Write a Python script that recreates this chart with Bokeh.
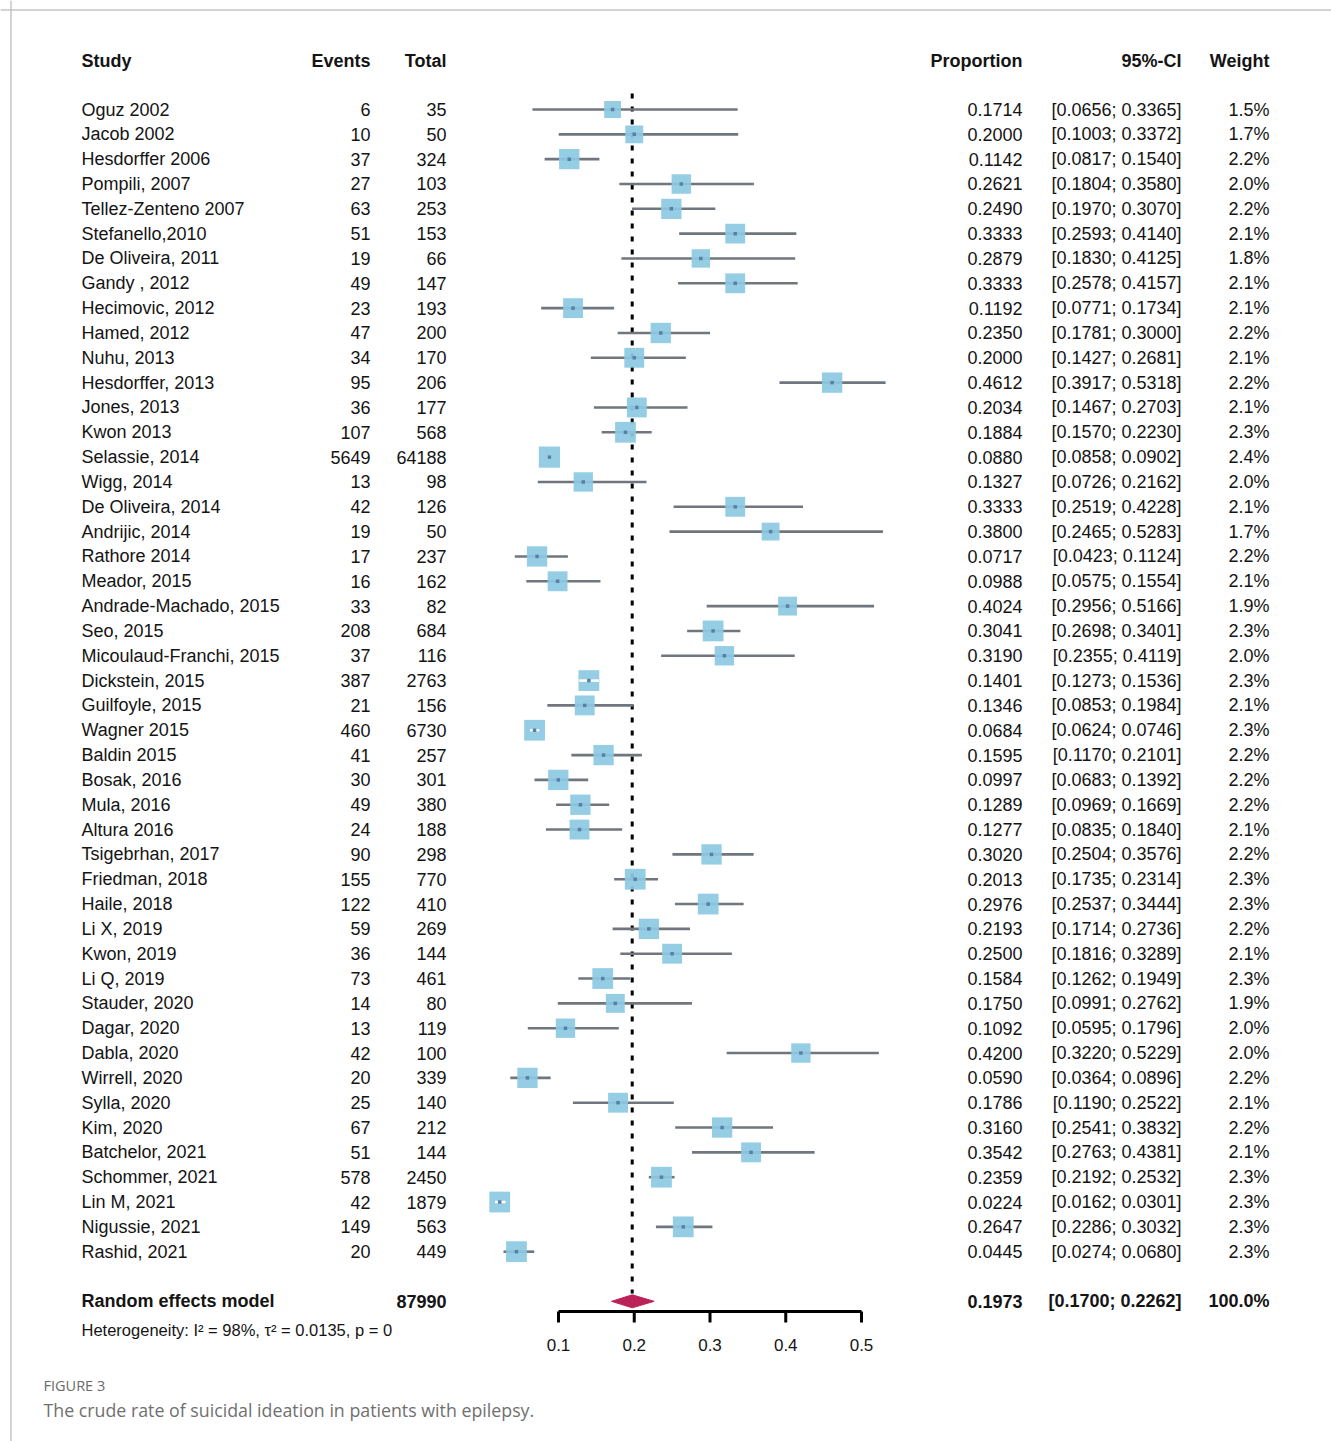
import numpy as np
from bokeh.plotting import figure
from bokeh.models import Range1d, Span, ColumnDataSource
from bokeh.core.properties import value
from bokeh.embed import file_html
from bokeh.resources import INLINE

# ---------------- data ----------------
studies = ["Oguz 2002", "Jacob 2002", "Hesdorffer 2006", "Pompili, 2007", "Tellez-Zenteno 2007",
           "Stefanello,2010", "De Oliveira, 2011", "Gandy , 2012", "Hecimovic, 2012", "Hamed, 2012",
           "Nuhu, 2013", "Hesdorffer, 2013", "Jones, 2013", "Kwon 2013", "Selassie, 2014",
           "Wigg, 2014", "De Oliveira, 2014", "Andrijic, 2014", "Rathore 2014", "Meador, 2015",
           "Andrade-Machado, 2015", "Seo, 2015", "Micoulaud-Franchi, 2015", "Dickstein, 2015",
           "Guilfoyle, 2015", "Wagner 2015", "Baldin 2015", "Bosak, 2016", "Mula, 2016",
           "Altura 2016", "Tsigebrhan, 2017", "Friedman, 2018", "Haile, 2018", "Li X, 2019",
           "Kwon, 2019", "Li Q, 2019", "Stauder, 2020", "Dagar, 2020", "Dabla, 2020",
           "Wirrell, 2020", "Sylla, 2020", "Kim, 2020", "Batchelor, 2021", "Schommer, 2021",
           "Lin M, 2021", "Nigussie, 2021", "Rashid, 2021"]
events = [6, 10, 37, 27, 63, 51, 19, 49, 23, 47, 34, 95, 36, 107, 5649, 13, 42, 19, 17, 16,
          33, 208, 37, 387, 21, 460, 41, 30, 49, 24, 90, 155, 122, 59, 36, 73, 14, 13, 42,
          20, 25, 67, 51, 578, 42, 149, 20]
totals = [35, 50, 324, 103, 253, 153, 66, 147, 193, 200, 170, 206, 177, 568, 64188, 98, 126,
          50, 237, 162, 82, 684, 116, 2763, 156, 6730, 257, 301, 380, 188, 298, 770, 410, 269,
          144, 461, 80, 119, 100, 339, 140, 212, 144, 2450, 1879, 563, 449]
proportion = [0.1714, 0.2000, 0.1142, 0.2621, 0.2490, 0.3333, 0.2879, 0.3333, 0.1192, 0.2350,
              0.2000, 0.4612, 0.2034, 0.1884, 0.0880, 0.1327, 0.3333, 0.3800, 0.0717, 0.0988,
              0.4024, 0.3041, 0.3190, 0.1401, 0.1346, 0.0684, 0.1595, 0.0997, 0.1289, 0.1277,
              0.3020, 0.2013, 0.2976, 0.2193, 0.2500, 0.1584, 0.1750, 0.1092, 0.4200, 0.0590,
              0.1786, 0.3160, 0.3542, 0.2359, 0.0224, 0.2647, 0.0445]
ci_lower = [0.0656, 0.1003, 0.0817, 0.1804, 0.1970, 0.2593, 0.1830, 0.2578, 0.0771, 0.1781,
            0.1427, 0.3917, 0.1467, 0.1570, 0.0858, 0.0726, 0.2519, 0.2465, 0.0423, 0.0575,
            0.2956, 0.2698, 0.2355, 0.1273, 0.0853, 0.0624, 0.1170, 0.0683, 0.0969, 0.0835,
            0.2504, 0.1735, 0.2537, 0.1714, 0.1816, 0.1262, 0.0991, 0.0595, 0.3220, 0.0364,
            0.1190, 0.2541, 0.2763, 0.2192, 0.0162, 0.2286, 0.0274]
ci_upper = [0.3365, 0.3372, 0.1540, 0.3580, 0.3070, 0.4140, 0.4125, 0.4157, 0.1734, 0.3000,
            0.2681, 0.5318, 0.2703, 0.2230, 0.0902, 0.2162, 0.4228, 0.5283, 0.1124, 0.1554,
            0.5166, 0.3401, 0.4119, 0.1536, 0.1984, 0.0746, 0.2101, 0.1392, 0.1669, 0.1840,
            0.3576, 0.2314, 0.3444, 0.2736, 0.3289, 0.1949, 0.2762, 0.1796, 0.5229, 0.0896,
            0.2522, 0.3832, 0.4381, 0.2532, 0.0301, 0.3032, 0.0680]
weights = [1.5, 1.7, 2.2, 2.0, 2.2, 2.1, 1.8, 2.1, 2.1, 2.2, 2.1, 2.2, 2.1, 2.3, 2.4, 2.0, 2.1,
           1.7, 2.2, 2.1, 1.9, 2.3, 2.0, 2.3, 2.1, 2.3, 2.2, 2.2, 2.2, 2.1, 2.2, 2.3, 2.3, 2.2,
           2.1, 2.3, 1.9, 2.0, 2.0, 2.2, 2.1, 2.2, 2.1, 2.3, 2.3, 2.3, 2.3]

pooled_label = "Random effects model"
pooled_total = 87990
pooled_est = 0.1973
pooled_lo = 0.1700
pooled_hi = 0.2262
pooled_weight = "100.0%"
heterogeneity = "Heterogeneity: I² = 98%, τ² = 0.0135, p = 0"
ticks = [0.1, 0.2, 0.3, 0.4, 0.5]
headers = ["Study", "Events", "Total", "Proportion", "95%-CI", "Weight"]
caption_head = "FIGURE 3"
caption_text = "The crude rate of suicidal ideation in patients with epilepsy."

# ---------------- layout ----------------
W, H = 1331, 1441
OFF = 0               # canvas origin in picture pixels
SX = 757.5            # pixels per unit of proportion
RH = 24.83            # pixels per row
X0 = 0.1 - (558 - OFF) / SX   # data x at canvas left
Y0 = -(109 - OFF) / RH        # data row at canvas top


def px(page_x):
    return X0 + (page_x - OFF) / SX


def py(page_y):
    return Y0 + (page_y - OFF) / RH


p = figure(width=W, height=H, output_backend="svg", toolbar_location=None,
           x_range=Range1d(X0, X0 + W / SX), y_range=Range1d(Y0 + H / RH, Y0),
           min_border=0, x_axis_type=None, y_axis_type=None)
p.grid.visible = False
p.outline_line_color = None
p.background_fill_color = "white"
p.border_fill_color = "white"

FONT = value("Liberation Sans")
FS = "18px"
TXT = "#141414"

# frame lines of the figure card
p.add_layout(Span(location=py(9.5), dimension="width", line_color="#c4c4c4", line_width=1.5))
p.add_layout(Span(location=px(10.5), dimension="height", line_color="#c4c4c4", line_width=1.5))

n = len(studies)
rows = np.arange(n)
sizes = [13.7 * np.sqrt(w) for w in weights]

src = ColumnDataSource(dict(
    row=rows, study=studies,
    events=[str(e) for e in events], totals=[str(t) for t in totals],
    prop=proportion, lo=ci_lower, hi=ci_upper, size=sizes,
    prop_s=["%.4f" % v for v in proportion],
    ci_s=["[%.4f; %.4f]" % (a, b) for a, b in zip(ci_lower, ci_upper)],
    w_s=["%.1f%%" % w for w in weights],
))

# reference (pooled estimate) dotted line
p.segment(x0=pooled_est, y0=py(93), x1=pooled_est, y1=py(1293),
          line_color="black", line_width=3, line_dash="5 8")

# CI lines
p.segment(x0="lo", y0="row", x1="hi", y1="row", source=src,
          line_color="#6f767d", line_width=2.6)
# squares
p.scatter(x="prop", y="row", size="size", marker="square", source=src,
          fill_color="#8cc9e3", fill_alpha=0.92, line_color=None)
# CIs lying inside their square drawn in white
inside = [i for i in range(n)
          if (proportion[i] - ci_lower[i]) * SX < sizes[i] / 2 and (ci_upper[i] - proportion[i]) * SX < sizes[i] / 2]
p.segment(x0=[ci_lower[i] for i in inside], y0=[rows[i] for i in inside],
          x1=[ci_upper[i] for i in inside], y1=[rows[i] for i in inside],
          line_color="white", line_width=2.6)
# point estimate marks
p.scatter(x="prop", y="row", size=3.5, marker="square", source=src,
          fill_color="#5a7fa3", line_color=None)

# pooled diamond
prow = n + 1
dh = 6.5 / RH
p.patch(x=[pooled_lo, pooled_est, pooled_hi, pooled_est],
        y=[prow, prow - dh, prow, prow + dh],
        fill_color="#bb2257", line_color="#bb2257", line_width=1)

# x axis (drawn under the plot)
ay = py(1311)
p.segment(x0=min(ticks), y0=ay, x1=max(ticks), y1=ay, line_color="black", line_width=3)
p.segment(x0=ticks, y0=[ay] * len(ticks), x1=ticks, y1=[py(1322)] * len(ticks),
          line_color="black", line_width=3)
p.text(x=ticks, y=[py(1344)] * len(ticks), text=["%.1f" % t for t in ticks],
       text_font=FONT, text_font_size="17px", text_color=TXT,
       text_align="center", text_baseline="middle")

# table columns
cols = [("study", 81, "left"), ("events", 370, "right"), ("totals", 446, "right"),
        ("prop_s", 1022, "right"), ("ci_s", 1181, "right"), ("w_s", 1269, "right")]
for field, xpos, align in cols:
    p.text(x=px(xpos), y="row", text=field, source=src, text_font=FONT, text_font_size=FS,
           text_color=TXT, text_align=align, text_baseline="middle")

# headers
hy = py(60)
for label, (_, xpos, align) in zip(headers, cols):
    p.text(x=[px(xpos)], y=[hy], text=[label], text_font=FONT, text_font_size=FS,
           text_font_style="bold", text_color=TXT, text_align=align, text_baseline="middle")

# pooled row
pooled_cells = [pooled_label, "", str(pooled_total), "%.4f" % pooled_est,
                "[%.4f; %.4f]" % (pooled_lo, pooled_hi), pooled_weight]
for label, (_, xpos, align) in zip(pooled_cells, cols):
    if label:
        p.text(x=[px(xpos)], y=[prow], text=[label], text_font=FONT, text_font_size=FS,
               text_font_style="bold", text_color=TXT, text_align=align, text_baseline="middle")

p.text(x=[px(81)], y=[py(1329)], text=[heterogeneity], text_font=FONT, text_font_size="16.5px",
       text_color=TXT, text_align="left", text_baseline="middle")

# caption
p.text(x=[px(43)], y=[py(1385)], text=[caption_head], text_font=value("Open Sans"),
       text_font_size="14.5px", text_color="#6a6a6a", text_align="left", text_baseline="middle")
p.text(x=[px(43)], y=[py(1409)], text=[caption_text], text_font=value("Open Sans"),
       text_font_size="17.8px", text_color="#707070", text_align="left", text_baseline="middle")

open("out.html", "w").write(file_html(p, INLINE))
